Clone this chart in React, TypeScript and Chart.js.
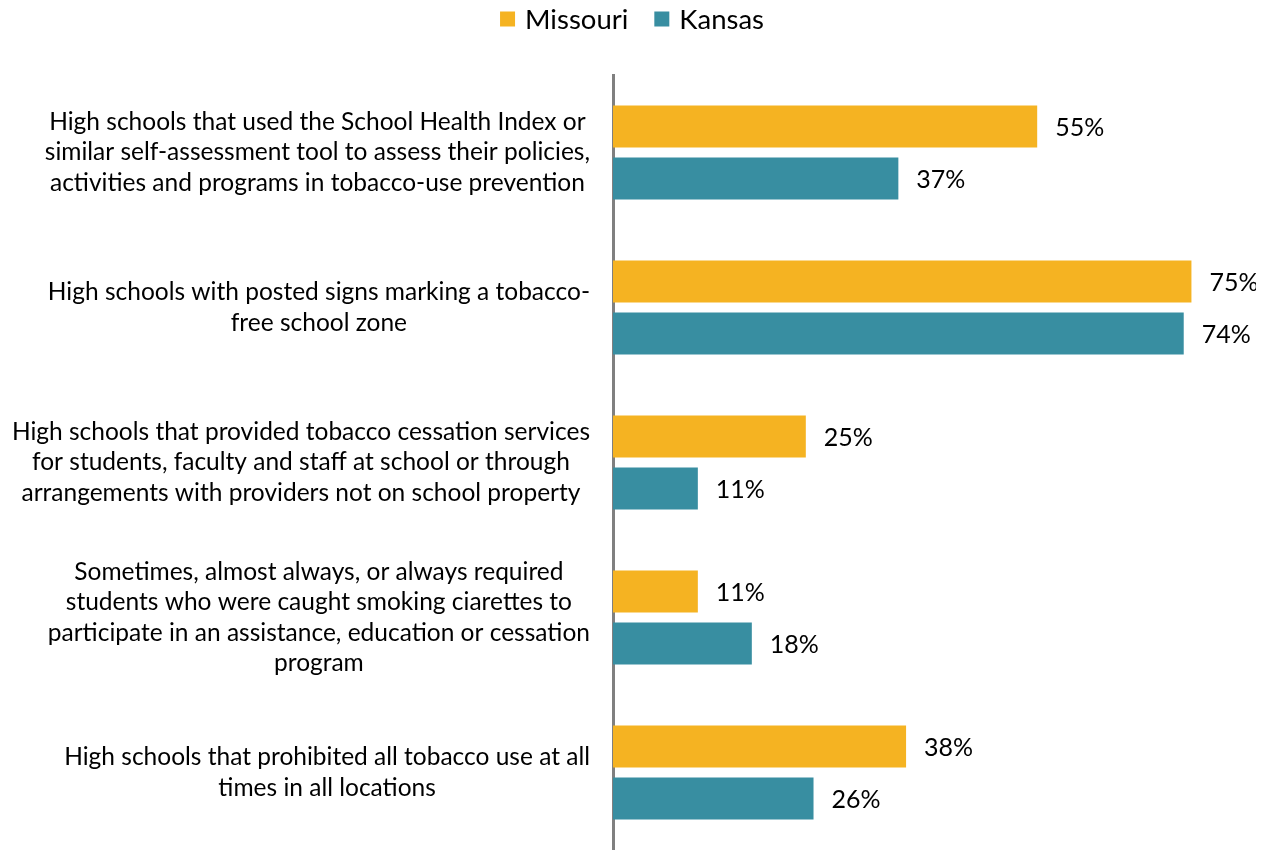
import React, { useEffect, useRef } from "react";
import { Chart, registerables } from "chart.js";
Chart.register(...registerables);

const categories: string[][] = [
  ["High schools that used the School Health Index or", "similar self-assessment tool to assess their policies,", "activities and programs in tobacco-use prevention"],
  ["High schools with posted signs marking a tobacco-", "free school zone"],
  ["High schools that provided tobacco cessation services", "for students, faculty and staff at school or through", "arrangements with providers not on school property"],
  ["Sometimes, almost always, or always required", "students who were caught smoking ciarettes to", "participate in an assistance, education or cessation", "program"],
  ["High schools that prohibited all tobacco use at all", "times in all locations"],
];
const seriesNames = ["Missouri", "Kansas"];
const missouriValues = [55, 75, 25, 11, 38];
const kansasValues = [37, 74, 11, 18, 26];
const seriesColors = ["#F5B322", "#388EA1"];

const FONT = "Lato, 'Open Sans', sans-serif";

const yLabelPlugin = {
  id: "yLabels",
  afterDraw(chart: any) {
    const ctx = chart.ctx;
    const y = chart.scales.y;
    ctx.save();
    ctx.font = `24.5px ${FONT}`;
    ctx.fillStyle = "#000";
    ctx.textAlign = "center";
    ctx.textBaseline = "middle";
    const lh = 30.5;
    const right = y.right - 23;
    categories.forEach((lines, i) => {
      const cy = y.getPixelForTick(i);
      const w = Math.max(...lines.map((l) => ctx.measureText(l).width));
      const cx = right - w / 2;
      const top = cy - ((lines.length - 1) * lh) / 2;
      lines.forEach((l, j) => ctx.fillText(l, cx, top + j * lh));
    });
    ctx.restore();
  },
};

const dataLabelPlugin = {
  id: "dataLabels",
  afterDatasetsDraw(chart: any) {
    const ctx = chart.ctx;
    ctx.save();
    ctx.font = `25px ${FONT}`;
    ctx.fillStyle = "#000";
    ctx.textAlign = "left";
    ctx.textBaseline = "middle";
    chart.data.datasets.forEach((ds: any, di: number) => {
      const meta = chart.getDatasetMeta(di);
      meta.data.forEach((bar: any, i: number) => {
        ctx.fillText(`${ds.data[i]}%`, bar.x + 18, bar.y + 1);
      });
    });
    ctx.restore();
  },
};

const legendPlugin = {
  id: "customLegend",
  afterDraw(chart: any) {
    const ctx = chart.ctx;
    ctx.save();
    ctx.font = `27.5px ${FONT}`;
    ctx.textBaseline = "middle";
    ctx.textAlign = "left";
    const box = 15;
    const gapBox = 10;
    const gapItem = 26;
    const items = chart.data.datasets.map((ds: any) => ({
      label: ds.label,
      color: ds.backgroundColor,
      w: ctx.measureText(ds.label).width,
    }));
    const total = items.reduce((s: number, it: any) => s + box + gapBox + it.w, 0) + gapItem * (items.length - 1);
    let x = chart.width / 2 - total / 2;
    const cy = 11;
    items.forEach((it: any) => {
      ctx.fillStyle = it.color;
      ctx.fillRect(x, cy - box / 2, box, box);
      x += box + gapBox;
      ctx.fillStyle = "#000";
      ctx.fillText(it.label, x, cy + 1);
      x += it.w + gapItem;
    });
    ctx.restore();
  },
};

export default function App() {
  const ref = useRef<HTMLCanvasElement>(null);
  useEffect(() => {
    if (!ref.current) return;
    const chart = new Chart(ref.current, {
      type: "bar",
      data: {
        labels: categories.map((c) => c.join(" ")),
        datasets: [
          { label: seriesNames[0], data: missouriValues, backgroundColor: seriesColors[0] },
          { label: seriesNames[1], data: kansasValues, backgroundColor: seriesColors[1] },
        ],
      },
      options: {
        indexAxis: "y",
        animation: false,
        responsive: true,
        maintainAspectRatio: false,
        layout: { padding: { top: 67, right: 26, left: 0, bottom: 0 } },
        datasets: { bar: { categoryPercentage: 0.671, barPercentage: 0.808 } },
        plugins: { legend: { display: false }, tooltip: { enabled: false } },
        scales: {
          x: { min: 0, max: 80, display: false },
          y: {
            grid: { display: false },
            border: { display: true, color: "#808080", width: 3 },
            ticks: { display: false },
            afterFit: (s: any) => {
              s.width = 605;
            },
          },
        },
      },
      plugins: [yLabelPlugin, dataLabelPlugin, legendPlugin],
    });
    return () => chart.destroy();
  }, []);
  return (
    <div style={{ position: "relative", width: "1248px", height: "842px" }}>
      <canvas ref={ref} />
    </div>
  );
}
